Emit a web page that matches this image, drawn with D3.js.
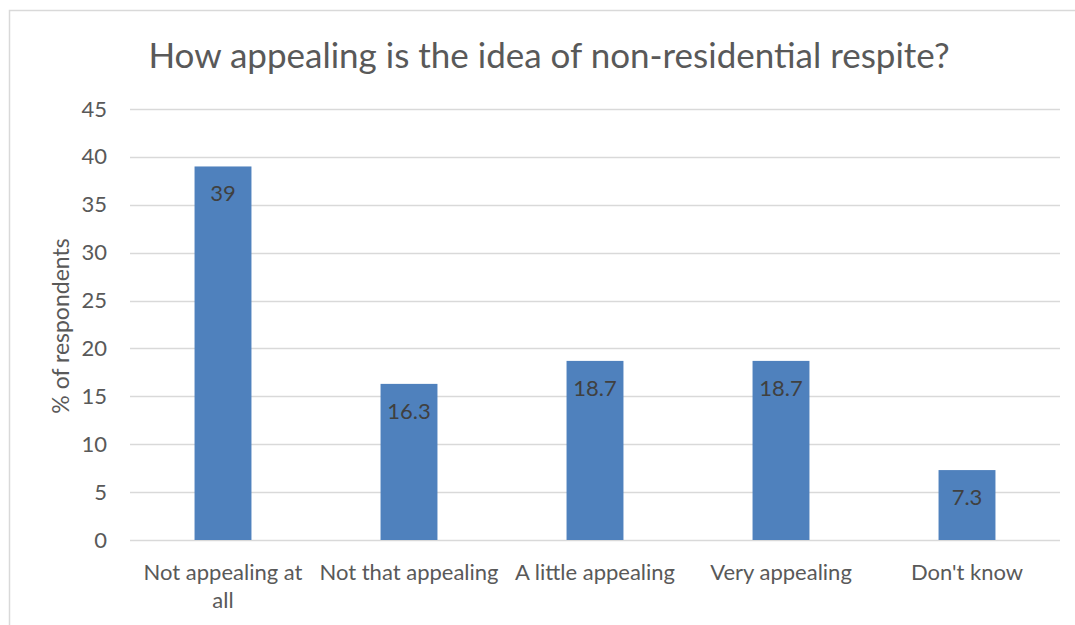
<!DOCTYPE html>
<html>
<head>
<meta charset="utf-8">
<script src="https://cdn.jsdelivr.net/npm/d3@7"></script>
<style>
  html, body { margin: 0; padding: 0; background: #ffffff; }
  svg { display: block; }
  text { font-family: Lato, "Open Sans", sans-serif; }
</style>
</head>
<body>
<svg id="chart" width="1075" height="625"></svg>
<script>
const title = "How appealing is the idea of non-residential respite?";
const yAxisTitle = "% of respondents";
const categories = ["Not appealing at all", "Not that appealing", "A little appealing", "Very appealing", "Don't know"];
const values = [39, 16.3, 18.7, 18.7, 7.3];
const valueLabels = ["39", "16.3", "18.7", "18.7", "7.3"];
const yTicks = [0, 5, 10, 15, 20, 25, 30, 35, 40, 45];

const W = 1075, H = 625;
const margin = { left: 130, right: 15, top: 109, bottom: 85 };
const svg = d3.select("#chart");

svg.append("rect")
  .attr("x", 9.5).attr("y", 10.5)
  .attr("width", 1080).attr("height", 640)
  .attr("fill", "#ffffff")
  .attr("stroke", "#D9D9D9").attr("stroke-width", 1.5);

const x = d3.scaleBand()
  .domain(categories)
  .range([margin.left, W - margin.right])
  .paddingInner(0.694).paddingOuter(0.347);

const y = d3.scaleLinear()
  .domain([0, 45])
  .range([H - margin.bottom, margin.top]);

svg.append("g")
  .selectAll("line")
  .data(yTicks)
  .join("line")
  .attr("x1", margin.left).attr("x2", W - margin.right)
  .attr("y1", d => Math.round(y(d)) + 0.5).attr("y2", d => Math.round(y(d)) + 0.5)
  .attr("stroke", "#D9D9D9").attr("stroke-width", 1.5);

const yAxis = d3.axisLeft(y).tickValues(yTicks).tickSize(0).tickPadding(0);
const gy = svg.append("g")
  .attr("transform", `translate(${107},0)`)
  .call(yAxis);
gy.select(".domain").remove();
gy.selectAll("text")
  .attr("font-size", 22)
  .attr("fill", "#595959")
  .attr("font-family", "Lato, sans-serif");

svg.append("g")
  .selectAll("rect")
  .data(values)
  .join("rect")
  .attr("x", (d, i) => x(categories[i]))
  .attr("width", x.bandwidth())
  .attr("y", d => y(d))
  .attr("height", d => y(0) - y(d))
  .attr("fill", "#4F81BD");

svg.append("g")
  .selectAll("text")
  .data(values)
  .join("text")
  .attr("x", (d, i) => x(categories[i]) + x.bandwidth() / 2)
  .attr("y", d => y(d) + 35)
  .attr("text-anchor", "middle")
  .attr("font-size", 22)
  .attr("fill", "#404040")
  .text((d, i) => valueLabels[i]);

const xAxis = d3.axisBottom(x).tickSize(0).tickPadding(0);
const gx = svg.append("g")
  .attr("transform", `translate(0,${y(0)})`)
  .call(xAxis);
gx.select(".domain").remove();
gx.selectAll("text").remove();
const maxW = x.step() - 4;
gx.selectAll(".tick").each(function(d) {
  const t = d3.select(this).append("text")
    .attr("text-anchor", "middle")
    .attr("font-size", 22)
    .attr("fill", "#595959")
    .attr("y", 40);
  const words = d.split(" ");
  let line = [];
  let tspan = t.append("tspan").attr("x", 0).attr("dy", 0);
  for (const w of words) {
    line.push(w);
    tspan.text(line.join(" "));
    if (tspan.node().getComputedTextLength() > maxW && line.length > 1) {
      line.pop();
      tspan.text(line.join(" "));
      line = [w];
      tspan = t.append("tspan").attr("x", 0).attr("dy", 28).text(w);
    }
  }
});

svg.append("text")
  .attr("transform", `translate(69,${326}) rotate(-90)`)
  .attr("text-anchor", "middle")
  .attr("font-size", 23)
  .attr("fill", "#595959")
  .text(yAxisTitle);

svg.append("text")
  .attr("x", 549).attr("y", 68)
  .attr("text-anchor", "middle")
  .attr("font-size", 35)
  .attr("fill", "#595959")
  .text(title);
</script>
</body>
</html>
